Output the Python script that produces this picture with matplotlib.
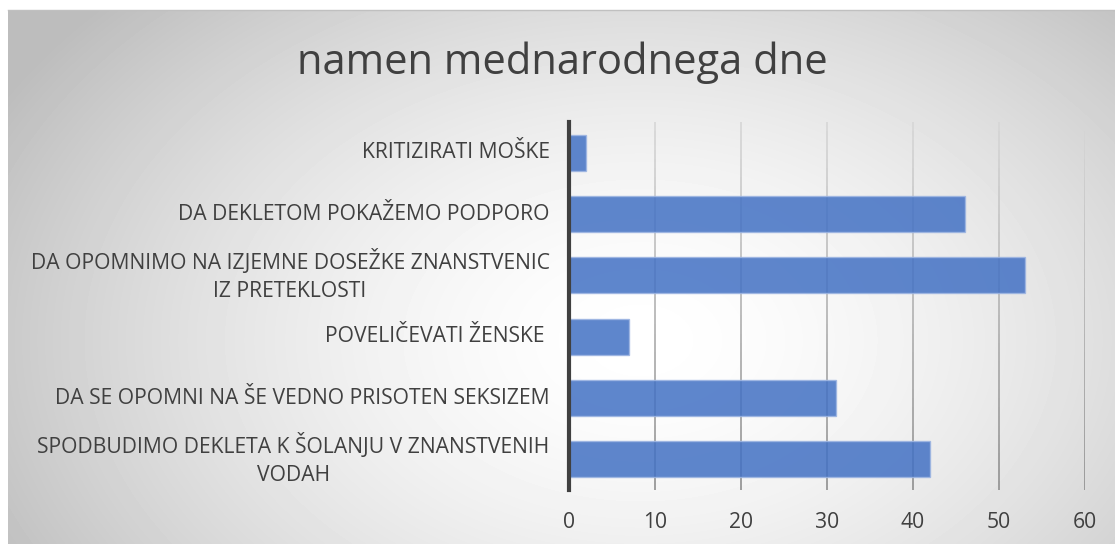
import numpy as np
import matplotlib
matplotlib.use("Agg")
import matplotlib.pyplot as plt
from matplotlib.collections import LineCollection

categories = [
    "KRITIZIRATI MOŠKE",
    "DA DEKLETOM POKAŽEMO PODPORO",
    "DA OPOMNIMO NA IZJEMNE DOSEŽKE ZNANSTVENIC\nIZ PRETEKLOSTI",
    "POVELIČEVATI ŽENSKE ",
    "DA SE OPOMNI NA ŠE VEDNO PRISOTEN SEKSIZEM",
    "SPODBUDIMO DEKLETA K ŠOLANJU V ZNANSTVENIH\nVODAH",
]
values = [2, 46, 53, 7, 31, 42]
xticks = [0, 10, 20, 30, 40, 50, 60]
title = "namen mednarodnega dne"

plt.rcParams['font.family'] = ['Open Sans', 'DejaVu Sans']
W, H = 1115, 544
fig = plt.figure(figsize=(W / 100, H / 100), dpi=100)
fig.patch.set_facecolor('white')

# radial gradient background
bx0, by0 = 8, 10  # pixel offsets of chart area (left, top)
bg = fig.add_axes([bx0 / W, 0, 1 - bx0 / W, 1 - by0 / H])
yy, xx = np.mgrid[by0:H, bx0:W]
cx, cy, rx, ry = 640, 340, 560, 380
d = np.sqrt(((xx - cx) / rx) ** 2 + ((yy - cy) / ry) ** 2)
v = np.clip(1 - 0.17 * d ** 1.6, 0.74, 1)
bg.imshow(v, cmap='gray', vmin=0, vmax=1, aspect='auto', interpolation='bilinear')
bg.axis('off')
# thin top border line
fig.add_artist(plt.Line2D([bx0 / W, 1], [1 - by0 / H, 1 - by0 / H], color='#c0c0c0', lw=1))

ax = fig.add_axes([569 / W, (H - 490) / H, (1085 - 569) / W, (490 - 122) / H])
ax.patch.set_alpha(0)
n = len(categories)
ypos = np.arange(n)
ax.set_xlim(0, 60)
ax.set_ylim(n - 0.5, -0.5)

# gridlines with vertical shading (lighter at top, darker at bottom)
segs, cols = [], []
nseg = 40
for xt in xticks[1:]:
    for k in range(nseg):
        y0 = -0.5 + n * k / nseg
        y1 = -0.5 + n * (k + 1) / nseg
        segs.append([(xt, y0), (xt, y1)])
        t = k / (nseg - 1)
        g = 0.84 - 0.28 * t
        cols.append((g, g, g))
ax.add_collection(LineCollection(segs, colors=cols, linewidths=1.2, zorder=1))

ax.barh(ypos, values, height=0.59, color='#4472C4', alpha=0.86,
        edgecolor='#9db5e2', linewidth=1, zorder=2)

ax.axvline(0, color='#404040', lw=3, zorder=3, clip_on=False)

for s in ax.spines.values():
    s.set_visible(False)
ax.set_xticks(xticks)
ax.set_xticklabels([str(t) for t in xticks])
ax.set_yticks(ypos)
ax.set_yticklabels(categories, multialignment='center', linespacing=1.45, va='center')
ax.tick_params(axis='both', length=0, colors='#404040', labelsize=15.2)
ax.tick_params(axis='y', pad=14)
ax.tick_params(axis='x', pad=16)

fig.text(562 / W, 1 - 63 / H, title, ha='center', va='center', fontsize=30, color='#404040')

fig.savefig('out.png', dpi=100)
